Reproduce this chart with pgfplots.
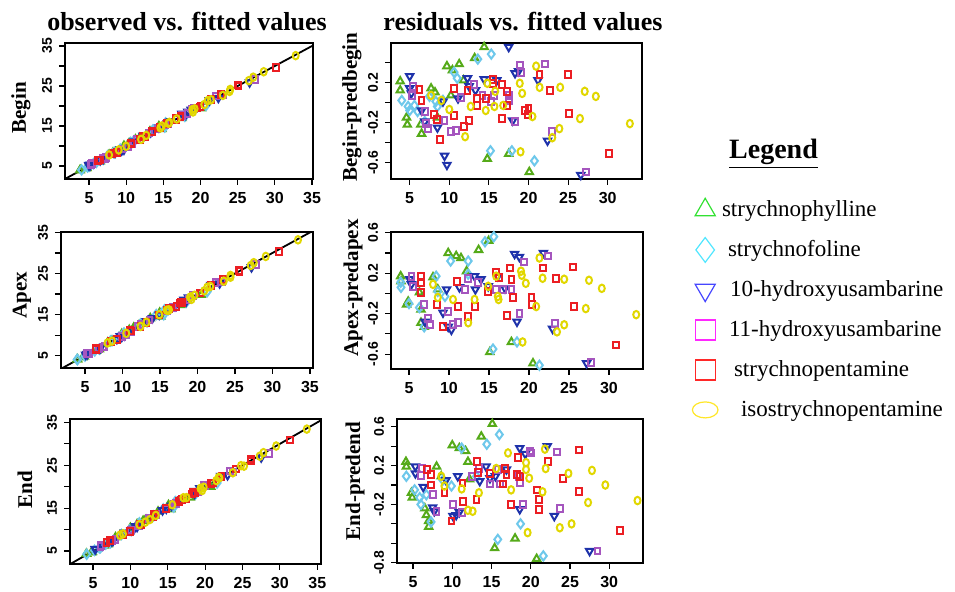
\documentclass[border=0pt]{standalone}
\usepackage{pgfplots}
\pgfplotsset{compat=1.18}
\usepackage{pgfplotstable}
\usepackage{fontspec}
\setmainfont{Liberation Serif}
\setsansfont{Liberation Sans}

% point colours (plots) and legend colours
\definecolor{pG}{RGB}{85,170,25}
\definecolor{pC}{RGB}{110,200,235}
\definecolor{pB}{RGB}{30,50,170}
\definecolor{pP}{RGB}{165,85,190}
\definecolor{pR}{RGB}{235,30,35}
\definecolor{pY}{RGB}{225,215,0}
\definecolor{lG}{RGB}{50,225,50}
\definecolor{lC}{RGB}{80,230,255}
\definecolor{lB}{RGB}{70,70,255}
\definecolor{lM}{RGB}{255,40,255}
\definecolor{lR}{RGB}{255,40,40}
\definecolor{lY}{RGB}{255,230,40}

% fitted value x, residual r, compound g
% g: 1 strychnophylline, 2 strychnofoline, 3 10-OH-usambarine,
%    4 11-OH-usambarine, 5 strychnopentamine, 6 isostrychnopentamine
\pgfplotstableread{
x r g
14.4 0.55 1
13.2 0.44 1
11.25 0.38 1
9.7 0.36 1
10.4 0.32 1
3.8 0.21 1
3.8 0.12 1
4.6 -0.15 1
4.7 -0.22 1
6.5 -0.31 1
6.4 -0.22 1
7.7 0.14 1
8.2 0.10 1
8.5 -0.15 1
10.2 0.07 1
11.8 0.22 1
14.8 -0.56 1
17.5 -0.51 1
20.1 -0.69 1
15.3 0.48 2
13.6 0.43 2
10.6 0.30 2
11.0 0.24 2
4.0 0.02 2
4.8 -0.04 2
5.0 -0.08 2
5.6 -0.03 2
6.0 -0.09 2
6.9 -0.19 2
7.5 0.06 2
8.3 0.01 2
8.5 -0.04 2
9.2 0.02 2
15.2 -0.48 2
17.9 -0.48 2
20.75 -0.58 2
17.5 0.55 3
5.0 0.26 3
5.0 0.14 3
5.2 0.09 3
6.5 -0.08 3
6.9 -0.19 3
8.5 -0.25 3
9.4 -0.53 3
9.7 -0.62 3
9.2 0.01 3
11.1 0.04 3
12.3 0.24 3
12.5 0.16 3
13.3 0.12 3
14.4 0.23 3
16.0 0.22 3
18.3 0.29 3
18.75 0.31 3
18.0 -0.18 3
21.2 0.22 3
22.4 -0.38 3
26.6 -0.72 3
5.4 0.16 4
5.3 0.07 4
6.9 -0.09 4
7.1 -0.21 4
7.3 -0.26 4
9.4 -0.18 4
10.2 -0.29 4
10.8 -0.28 4
11.5 0.05 4
13.1 0.18 4
14.2 0.07 4
15.3 0.01 4
15.6 0.07 4
17.5 0.07 4
17.5 0.02 4
18.25 -0.19 4
18.9 0.37 4
19.1 0.30 4
22.1 0.38 4
23.0 -0.29 4
27.3 -0.69 4
6.25 0.13 5
6.5 0.02 5
8.1 -0.12 5
8.4 -0.17 5
8.8 -0.37 5
10.6 0.14 5
10.6 -0.13 5
11.9 -0.24 5
12.3 0.12 5
12.5 -0.18 5
13.5 0.04 5
13.5 -0.03 5
14.6 0.04 5
15.5 0.23 5
15.5 0.19 5
16.7 0.18 5
16.7 -0.16 5
17.3 0.11 5
17.3 -0.03 5
19.6 -0.08 5
20.0 -0.06 5
19.9 -0.12 5
21.4 0.28 5
22.75 0.12 5
25.0 0.28 5
25.1 -0.11 5
30.2 -0.51 5
7.7 0.07 6
9.0 0.02 6
10.0 -0.07 6
12.0 -0.34 6
12.7 -0.04 6
14.6 -0.08 6
14.8 0.19 6
15.7 -0.04 6
15.8 0.11 6
16.8 -0.03 6
18.9 0.19 6
19.2 0.09 6
19.0 -0.49 6
20.5 -0.14 6
20.96 0.36 6
21.4 0.15 6
23.0 -0.35 6
23.9 -0.26 6
24.0 0.15 6
26.5 -0.16 6
27.1 0.11 6
28.5 0.06 6
32.8 -0.21 6
}\beginres

\pgfplotstableread{
x r g
14.96 0.52 1
13.7 0.43 1
9.9 0.40 1
10.9 0.37 1
11.5 0.35 1
3.96 0.17 1
4.0 0.12 1
4.9 -0.08 1
4.7 -0.11 1
6.3 0.01 1
6.5 -0.16 1
6.5 -0.29 1
6.9 -0.33 1
8.0 0.16 1
8.6 0.04 1
12.2 0.22 1
15.1 -0.58 1
17.8 -0.48 1
20.5 -0.69 1
15.6 0.56 2
14.5 0.51 2
10.2 0.32 2
12.4 0.32 2
12.4 0.19 2
3.96 0.11 2
4.0 0.06 2
5.0 -0.10 2
6.3 -0.14 2
6.9 -0.33 2
8.4 0.17 2
8.6 0.02 2
9.5 -0.03 2
15.5 -0.55 2
18.5 -0.48 2
21.3 -0.71 2
5.1 0.14 3
5.3 0.09 3
7.0 -0.28 3
9.25 -0.19 3
9.9 -0.33 3
10.3 -0.36 3
9.7 0.04 3
11.3 0.06 3
13.2 0.17 3
13.3 0.04 3
14.0 0.14 3
14.9 0.07 3
16.1 0.17 3
17.0 0.05 3
18.2 0.39 3
18.8 0.36 3
18.5 -0.28 3
21.8 0.40 3
22.95 -0.35 3
27.2 -0.69 3
5.3 0.17 4
5.5 0.07 4
6.9 -0.11 4
7.4 -0.25 4
7.6 -0.31 4
9.9 -0.18 4
10.5 -0.31 4
11.1 -0.29 4
12.0 0.04 4
12.4 0.15 4
13.6 0.11 4
15.9 0.04 4
16.75 0.04 4
17.8 0.04 4
18.8 -0.20 4
19.4 0.31 4
22.4 0.37 4
23.25 -0.30 4
27.8 -0.68 4
6.5 0.17 5
6.5 0.11 5
6.5 0.01 5
8.5 -0.11 5
9.25 -0.33 5
11.0 0.12 5
11.1 -0.13 5
12.4 -0.23 5
13.2 -0.13 5
14.9 0.02 5
15.9 0.21 5
16.25 0.16 5
17.2 -0.22 5
17.6 0.25 5
17.8 0.14 5
18.0 -0.04 5
20.3 -0.04 5
20.4 -0.11 5
21.8 0.25 5
23.4 0.15 5
25.5 0.26 5
25.6 -0.13 5
30.9 -0.51 5
8.0 0.09 6
8.6 -0.04 6
10.5 -0.06 6
12.4 -0.29 6
13.2 -0.06 6
14.9 0.07 6
15.9 0.17 6
16.1 -0.03 6
16.2 -0.06 6
19.0 0.22 6
19.1 0.18 6
19.6 0.10 6
19.2 -0.48 6
20.9 -0.13 6
21.3 0.35 6
21.7 0.15 6
23.5 -0.38 6
24.4 0.14 6
24.4 -0.31 6
27.1 -0.15 6
27.5 0.13 6
29.1 0.05 6
33.4 -0.21 6
}\apexres

\pgfplotstableread{
x r g
15.1 0.63 1
13.7 0.50 1
10.0 0.41 1
10.9 0.38 1
11.7 0.35 1
4.1 0.24 1
4.15 0.19 1
4.8 -0.08 1
4.9 -0.13 1
6.5 -0.24 1
6.7 -0.31 1
7.0 -0.37 1
7.0 -0.43 1
8.0 0.19 1
8.6 0.09 1
12.0 0.24 1
12.2 0.06 1
15.4 -0.65 1
18.0 -0.55 1
20.75 -0.76 1
16.0 0.52 2
14.4 0.42 2
11.2 0.38 2
13.1 0.09 2
4.15 0.09 2
5.2 -0.05 2
5.85 -0.13 2
6.0 -0.20 2
6.7 -0.10 2
7.3 -0.38 2
8.8 0.05 2
9.9 -0.01 2
15.8 -0.56 2
18.7 -0.40 2
21.6 -0.73 2
5.3 0.19 3
5.3 0.12 3
6.3 -0.02 3
7.5 -0.23 3
7.7 -0.27 3
9.2 0.05 3
10.1 -0.32 3
10.5 -0.31 3
10.9 -0.28 3
10.7 0.09 3
13.5 0.04 3
14.3 0.19 3
14.8 0.07 3
15.5 0.09 3
16.9 0.16 3
18.6 0.38 3
19.3 0.32 3
18.6 -0.25 3
22.1 0.40 3
23.0 -0.32 3
27.5 -0.68 3
6.0 0.10 4
6.1 0.17 4
7.5 -0.10 4
8.0 -0.27 4
10.1 -0.20 4
11.2 -0.28 4
12.5 0.09 4
13.4 0.17 4
14.8 0.01 4
15.8 0.16 4
16.1 0.01 4
18.5 0.09 4
18.6 0.02 4
19.0 -0.20 4
19.9 0.35 4
20.0 0.33 4
23.3 0.34 4
23.7 -0.24 4
28.5 -0.68 4
6.8 0.16 5
7.3 0.11 5
7.3 0.00 5
9.0 -0.08 5
9.9 -0.37 5
11.3 0.02 5
11.4 -0.17 5
13.1 -0.15 5
13.2 0.24 5
13.3 0.13 5
14.8 0.12 5
16.5 0.01 5
16.7 0.17 5
16.9 0.11 5
17.5 -0.20 5
18.2 0.11 5
18.4 0.28 5
18.6 0.09 5
20.75 -0.05 5
21.0 -0.15 5
21.1 -0.25 5
22.2 0.24 5
24.1 0.07 5
26.1 0.36 5
26.1 -0.07 5
31.4 -0.47 5
8.6 0.09 6
9.0 -0.01 6
11.2 -0.04 6
12.0 -0.26 6
12.6 -0.27 6
13.4 -0.08 6
15.6 0.17 6
17.1 0.33 6
17.5 -0.05 6
19.4 0.23 6
19.4 0.16 6
19.8 0.07 6
19.6 -0.49 6
21.5 -0.07 6
21.8 0.37 6
21.9 0.17 6
23.7 -0.44 6
24.8 0.12 6
25.2 -0.40 6
27.3 -0.18 6
27.8 0.15 6
29.5 0.00 6
33.6 -0.16 6
}\endres

\pgfplotsset{
  panel/.style={scale only axis, anchor=north west,
    axis line style={line width=0.9pt},
    tick align=outside, tick pos=left, major tick length=3pt,
    every tick/.style={black, line width=0.6pt},
    xticklabel style={font=\sffamily\bfseries\fontsize{8}{9}\selectfont},
    yticklabel style={font=\sffamily\bfseries\fontsize{7}{8}\selectfont, rotate=90, anchor=south}},
  obsx/.style={xtick={5,10,15,20,25,30,35}, xticklabels={5,10,15,20,25,30,35},
    ytick={5,10,15,20,25,30,35}, yticklabels={5,,15,,25,,35}},
  resx/.style={xtick={5,10,15,20,25,30}, xticklabels={5,10,15,20,25,30}},
  s1/.style={only marks, pG, mark=triangle, mark size=2.1pt, mark options={solid, line width=1pt}},
  s2/.style={only marks, pC, mark=diamond, mark size=2.3pt, mark options={solid, line width=1pt}},
  s3/.style={only marks, pB, mark=triangle, mark size=2.1pt, mark options={solid, line width=1pt, rotate=180}},
  s4/.style={only marks, pP, mark=square, mark size=1.45pt, mark options={solid, line width=1pt, yscale=1.15}},
  s5/.style={only marks, pR, mark=square, mark size=1.45pt, mark options={solid, line width=1pt, yscale=1.15}},
  s6/.style={only marks, pY, mark=o, mark size=1.5pt, mark options={solid, line width=1pt, yscale=1.25}},
}

% six compounds of one table; #2 is the y value
\newcommand\compounds[2]{%
  \addplot[s1] table[x=x, y expr=#2, restrict expr to domain={\thisrow{g}}{1:1}] {#1};
  \addplot[s2] table[x=x, y expr=#2, restrict expr to domain={\thisrow{g}}{2:2}] {#1};
  \addplot[s3] table[x=x, y expr=#2, restrict expr to domain={\thisrow{g}}{3:3}] {#1};
  \addplot[s4] table[x=x, y expr=#2, restrict expr to domain={\thisrow{g}}{4:4}] {#1};
  \addplot[s5] table[x=x, y expr=#2, restrict expr to domain={\thisrow{g}}{5:5}] {#1};
  \addplot[s6] table[x=x, y expr=#2, restrict expr to domain={\thisrow{g}}{6:6}] {#1};
}

\begin{document}
\begin{tikzpicture}
\useasboundingbox (0,0) rectangle (477.5pt,-296pt);

% observed vs fitted
\begin{axis}[panel, obsx, at={(32.5pt,-21.5pt)}, width=124pt, height=68pt,
  xmin=1.77, xmax=35.13, ymin=1.75, ymax=35.75]
  \compounds{\beginres}{\thisrow{x}+\thisrow{r}}
  \addplot[black, line width=0.9pt, no marks] coordinates {(0,0) (40,40)};
\end{axis}
\begin{axis}[panel, obsx, at={(30.5pt,-116pt)}, width=126pt, height=68pt,
  xmin=1.8, xmax=35.4, ymin=2.0, ymax=35.1]
  \compounds{\apexres}{\thisrow{x}+\thisrow{r}}
  \addplot[black, line width=0.9pt, no marks] coordinates {(0,0) (40,40)};
\end{axis}
\begin{axis}[panel, obsx, at={(35pt,-209.5pt)}, width=125.5pt, height=72.5pt,
  xmin=1.92, xmax=35.5, ymin=1.97, ymax=35.8]
  \compounds{\endres}{\thisrow{x}+\thisrow{r}}
  \addplot[black, line width=0.9pt, no marks] coordinates {(0,0) (40,40)};
\end{axis}

% residuals vs fitted
\begin{axis}[panel, resx, at={(195.5pt,-21.5pt)}, width=125.5pt, height=68pt,
  xmin=2.64, xmax=34.33, ymin=-0.76, ymax=0.59,
  ytick={-0.6,-0.4,-0.2,0,0.2,0.4}, yticklabels={-0.6,,-0.2,,0.2,}]
  \compounds{\beginres}{\thisrow{r}}
\end{axis}
\begin{axis}[panel, resx, at={(195.5pt,-116pt)}, width=126pt, height=68.5pt,
  xmin=2.75, xmax=34.25, ymin=-0.747, ymax=0.607,
  ytick={-0.6,-0.4,-0.2,0,0.2,0.4,0.6}, yticklabels={-0.6,,-0.2,,0.2,,0.6}]
  \compounds{\apexres}{\thisrow{r}}
\end{axis}
\begin{axis}[panel, resx, at={(198.5pt,-209.5pt)}, width=123pt, height=72pt,
  xmin=2.96, xmax=34.3, ymin=-0.803, ymax=0.68,
  ytick={-0.8,-0.6,-0.4,-0.2,0,0.2,0.4,0.6}, yticklabels={-0.8,,,-0.2,,0.2,,0.6}]
  \compounds{\endres}{\thisrow{r}}
\end{axis}

% legend
\begin{axis}[at={(346pt,-98pt)}, anchor=north west, scale only axis,
  width=100pt, height=110pt, hide axis, xmin=0, xmax=1, ymin=0, ymax=1,
  legend style={at={(0,1)}, anchor=north west, draw=none, fill=none,
    inner sep=0pt, row sep=6.5pt, legend cell align=left,
    font=\fontsize{11.5}{13}\selectfont,
    /tikz/every odd column/.append style={column sep=0pt}}]
  \addlegendimage{legend image code/.code={\draw[lG, line width=0.6pt, mark=triangle, mark size=5.8pt, only marks] plot coordinates {(0pt,0pt)};}}
  \addlegendentry{strychnophylline}
  \addlegendimage{legend image code/.code={\draw[lC, line width=0.6pt, mark=diamond, mark size=6.2pt, only marks] plot coordinates {(0pt,0pt)};}}
  \addlegendentry{\hspace{3pt}strychnofoline}
  \addlegendimage{legend image code/.code={\draw[lB, line width=0.6pt, mark=triangle, mark size=5.8pt, mark options={rotate=180}, only marks] plot coordinates {(0pt,0pt)};}}
  \addlegendentry{\hspace{4pt}10-hydroxyusambarine}
  \addlegendimage{legend image code/.code={\draw[lM, line width=0.6pt, mark=square, mark size=5pt, only marks] plot coordinates {(0pt,0pt)};}}
  \addlegendentry{\hspace{3.5pt}11-hydroxyusambarine}
  \addlegendimage{legend image code/.code={\draw[lR, line width=0.6pt, mark=square, mark size=5pt, only marks] plot coordinates {(0pt,0pt)};}}
  \addlegendentry{\hspace{6pt}strychnopentamine}
  \addlegendimage{legend image code/.code={\draw[lY, line width=0.6pt, mark=o, mark size=4pt, mark options={xscale=1.6}, only marks] plot coordinates {(0pt,0pt)};}}
  \addlegendentry{\hspace{9.5pt}isostrychnopentamine}
\end{axis}

% titles and axis labels
\node[font=\bfseries\fontsize{13}{15}\selectfont] at (93.5pt,-11pt) {observed vs. fitted values};
\node[font=\bfseries\fontsize{13}{15}\selectfont] at (261.5pt,-11pt) {residuals vs. fitted values};
\node[rotate=90, font=\bfseries\fontsize{10.5}{12}\selectfont] at (10.5pt,-54pt) {Begin};
\node[rotate=90, font=\bfseries\fontsize{10.5}{12}\selectfont] at (11pt,-147.5pt) {Apex};
\node[rotate=90, font=\bfseries\fontsize{10.5}{12}\selectfont] at (12.5pt,-245pt) {End};
\node[rotate=90, font=\bfseries\fontsize{10.5}{12}\selectfont] at (176pt,-53.5pt) {Begin-predbegin};
\node[rotate=90, font=\bfseries\fontsize{10.5}{12}\selectfont] at (176.5pt,-144pt) {Apex-predapex};
\node[rotate=90, font=\bfseries\fontsize{10.5}{12}\selectfont] at (177.5pt,-240.5pt) {End-predend};
\node[font=\bfseries\fontsize{14}{16}\selectfont] at (386.75pt,-77pt) {\underline{Legend}};
\end{tikzpicture}
\end{document}
